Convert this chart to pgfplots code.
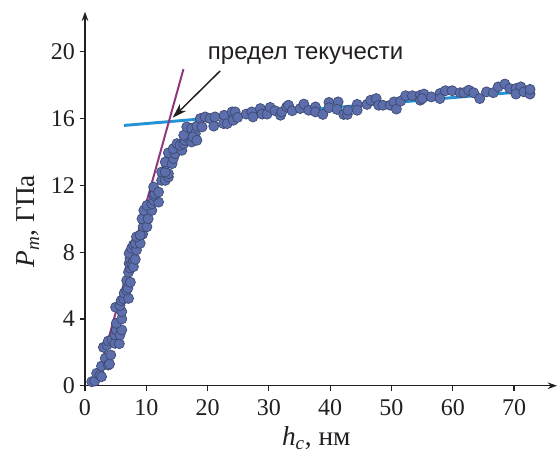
\documentclass[border=0pt]{standalone}
\usepackage{pgfplots}
\pgfplotsset{compat=1.18}
\usepackage{fontspec}
\setmainfont{Liberation Serif}
\newfontfamily\annfont{Liberation Sans}
\usetikzlibrary{arrows.meta}
\definecolor{dotfill}{RGB}{92,110,172}
\definecolor{dotedge}{RGB}{60,72,112}
\definecolor{fitblue}{RGB}{38,146,214}
\definecolor{fitpurple}{RGB}{142,56,128}
\definecolor{txt}{RGB}{35,31,32}
\begin{document}
\begin{tikzpicture}
\begin{axis}[
  name=ax, at={(0,0)}, anchor=south west,
  scale only axis, width=354pt, height=280.5pt,
  xmin=0, xmax=77, ymin=0, ymax=22.4,
  axis lines=left,
  axis line style={line width=1pt, txt, -{Stealth[length=7pt,width=5pt]}},
  xtick={0,10,...,70}, ytick={0,4,...,20},
  tick align=outside, major tick length=4pt,
  tick style={line width=0.9pt, txt},
  /pgf/number format/assume math mode=true,
  ticklabel style={font=\fontsize{18}{20}\selectfont, text=txt},
  xticklabel style={yshift=-3pt},
  xlabel={\textit{h}\textsubscript{\textit{c}}, нм},
  ylabel={\textit{P}\textsubscript{\textit{m}}, ГПа},
  label style={font=\fontsize{20.5}{22}\selectfont, text=txt},
  xlabel style={at={(ticklabel cs:0.49)}, yshift=-1pt},
  ylabel style={at={(ticklabel cs:0.44)}, yshift=2pt},
  clip=false,
]
\addplot[fitblue, line width=2.2pt] coordinates {(6.37,15.59) (69.4,17.55)};
\addplot[only marks, mark=*, mark size=3.8pt,
  mark options={fill=dotfill, draw=dotedge, line width=0.5pt}] table {
x y
1.1 0.24
1.6 0.28
1.9 0.74
2.45 0.64
2.7 0.54
2.7 1.18
3.3 1.64
3.8 1.24
4.0 1.3
4.2 1.84
3.0 2.3
3.6 2.44
3.8 2.68
4.4 2.74
4.9 2.54
5.6 2.52
4.9 3.04
5.1 3.34
5.7 3.04
6.0 3.34
5.1 3.74
6.0 4.0
5.0 4.7
6.0 4.43
5.7 4.8
5.9 5.1
6.3 5.2
6.4 5.55
7.1 5.23
6.8 5.73
7.0 5.85
6.8 6.3
7.4 6.2
7.1 6.8
7.35 7.05
7.2 7.33
7.6 7.33
7.35 7.63
7.9 7.5
7.2 7.93
7.9 7.13
8.2 7.57
7.6 8.23
7.9 8.43
8.4 8.13
8.2 8.53
9.0 8.53
8.4 8.92
9.4 9.08
9.0 9.02
9.5 9.52
10.1 9.52
9.3 10.0
10.3 10.0
9.6 10.5
10.9 10.5
10.1 10.8
10.9 10.9
11.2 11.1
12.0 11.0
11.2 11.4
11.4 11.5
11.2 11.9
12.0 11.6
12.5 12.3
13.1 12.3
13.6 12.5
12.5 12.8
13.6 12.7
13.1 12.8
13.3 13.3
13.1 13.4
14.2 13.3
14.4 13.6
13.6 13.95
14.7 13.9
14.4 14.2
15.0 14.5
15.8 14.1
15.5 14.4
16.1 14.5
16.3 14.7
16.6 14.9
17.2 15.0
17.4 14.6
16.1 15.0
16.6 15.5
17.4 15.4
18.0 15.1
18.25 15.55
17.6 14.9
18.25 14.7
18.8 16.0
19.6 16.1
19.1 15.5
20.4 16.0
21.0 15.55
21.2 16.1
22.6 15.7
22.7 16.2
23.2 15.7
24.0 16.4
24.2 15.9
24.5 16.4
24.9 16.07
26.3 16.27
27.2 16.4
27.4 16.1
28.6 16.6
28.9 16.27
29.7 16.27
30.2 16.67
31.0 16.47
31.9 16.2
32.1 16.4
32.9 16.7
33.2 16.8
33.8 16.47
35.1 16.6
35.7 16.87
36.5 16.5
37.6 16.7
37.6 16.4
38.8 16.25
39.8 16.97
39.8 16.65
41.3 17.0
41.1 16.55
42.2 16.25
42.8 16.25
42.9 16.5
44.4 16.85
44.4 16.5
46.0 16.85
46.6 17.1
47.5 17.2
47.9 16.8
48.6 16.8
49.8 16.8
50.4 17.0
50.8 16.57
51.5 17.05
52.3 17.37
53.4 17.37
54.7 17.4
54.7 17.1
55.3 17.47
55.0 17.2
56.5 17.3
57.9 17.5
57.9 17.2
58.8 17.67
59.9 17.67
61.2 17.55
61.8 17.55
62.6 17.7
63.4 17.55
64.4 17.2
65.5 17.6
66.6 17.55
67.4 17.9
68.5 18.07
69.3 17.8
70.3 17.8
71.1 17.9
70.3 17.47
71.6 17.6
72.6 17.47
72.6 17.75
};
\addplot[fitpurple, line width=1.5pt] coordinates {(1.7,0) (16.06,18.96)};
\draw[txt, line width=1.1pt, -{Stealth[length=11pt,width=7pt]}] (axis cs:22.06,18.86) -- (axis cs:14.3,16.05);
\node[font=\annfont\fontsize{18}{20}\selectfont, text=txt] at (axis cs:36.0,19.8) {предел текучести};
\end{axis}
\pgfresetboundingbox
\path (-63.75pt,-54.2pt) rectangle (354pt,289.3pt);
\end{tikzpicture}
\end{document}
